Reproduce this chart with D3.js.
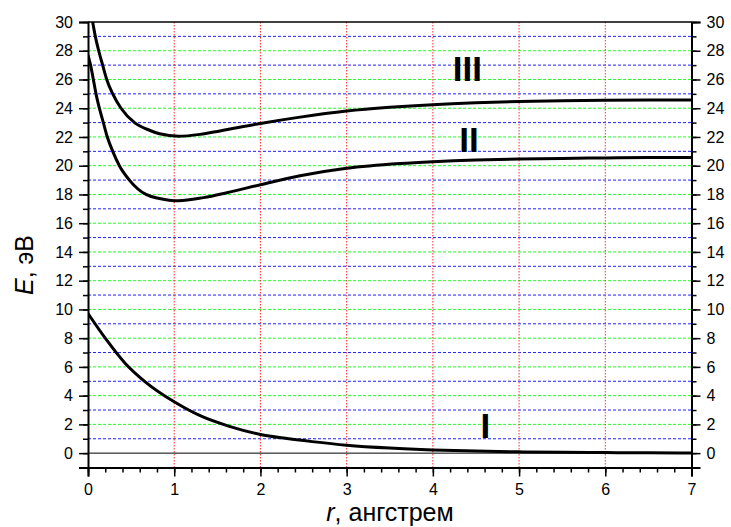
<!DOCTYPE html>
<html>
<head>
<meta charset="utf-8">
<script src="https://cdn.jsdelivr.net/npm/d3@7"></script>
<style>
html,body{margin:0;padding:0;background:#fff;}
text{font-family:"Liberation Sans",Arial,sans-serif;}
</style>
</head>
<body>
<svg id="chart" width="731" height="527"></svg>
<script>
// ---- data ----
const rI = [0, 0.2, 0.43, 0.66, 1.0, 1.32, 1.63, 2.0, 2.29, 2.6, 3, 3.5, 4, 4.5, 5, 5.5, 6, 6.5, 7];
const eI = [9.72, 8.0, 6.26, 4.98, 3.57, 2.55, 1.88, 1.3, 1.03, 0.8, 0.55, 0.35, 0.22, 0.14, 0.09, 0.06, 0.04, 0.02, 0.01];

const rII = [0, 0.03, 0.062, 0.093, 0.132, 0.178, 0.224, 0.287, 0.364, 0.48, 0.673, 0.94, 1.05, 1.34, 1.61, 2.0, 2.46, 3.0, 3.62, 4.0, 4.5, 5, 5.5, 6, 6.5, 7];
const eII = [27.7, 27, 26, 25, 24, 23, 22, 21, 20, 19, 18, 17.6, 17.56, 17.78, 18.12, 18.68, 19.3, 19.82, 20.15, 20.28, 20.4, 20.47, 20.51, 20.54, 20.57, 20.58];

const rIII = [0.054, 0.085, 0.124, 0.17, 0.217, 0.287, 0.383, 0.54, 0.72, 0.83, 1.05, 1.3, 1.53, 2.0, 2.46, 3.0, 3.5, 4.0, 4.5, 5, 5.5, 6, 6.5, 7];
const eIII = [30, 29, 28, 27, 26, 25, 24, 23, 22.45, 22.22, 22.05, 22.18, 22.42, 22.94, 23.38, 23.8, 24.06, 24.25, 24.38, 24.47, 24.52, 24.55, 24.57, 24.58];

const curveNames = ["I", "II", "III"];
const labelR = [4.61, 4.42, 4.40];
const labelE = [1.04, 20.95, 25.9];

const xTicks = [0, 1, 2, 3, 4, 5, 6, 7];
const yTicks = [0, 2, 4, 6, 8, 10, 12, 14, 16, 18, 20, 22, 24, 26, 28, 30];
const xTitle = "ангстрем";
const yTitle = "эВ";

// ---- layout ----
const svg = d3.select("#chart");
const L = 88, R = 691.5, T = 22, B = 467.5;
const x = d3.scaleLinear().domain([0, 7]).range([L, R]);
const y = d3.scaleLinear().domain([-1, 30]).range([B, T]);

// grid: horizontal (minor odd = blue, major even = green)
const minorY = d3.range(1, 30, 2);
svg.append("g").selectAll("line").data(minorY).join("line")
  .attr("x1", L).attr("x2", R).attr("y1", d => y(d)).attr("y2", d => y(d))
  .attr("stroke", "#2020ff").attr("stroke-width", 1).attr("stroke-dasharray", "3,2");
svg.append("g").selectAll("line").data(yTicks.filter(d => d > 0 && d < 30)).join("line")
  .attr("x1", L).attr("x2", R).attr("y1", d => y(d)).attr("y2", d => y(d))
  .attr("stroke", "#20ff20").attr("stroke-width", 1).attr("stroke-dasharray", "3,2");
// vertical red dotted
svg.append("g").selectAll("line").data(xTicks.filter(d => d > 0 && d < 7)).join("line")
  .attr("x1", d => x(d)).attr("x2", d => x(d)).attr("y1", T).attr("y2", B)
  .attr("stroke", "#ff3030").attr("stroke-width", 1).attr("stroke-dasharray", "1.5,1.5");

// zero line
svg.append("line").attr("x1", L).attr("x2", R).attr("y1", y(0)).attr("y2", y(0))
  .attr("stroke", "#000").attr("stroke-width", 1);

// curves
svg.append("defs").append("clipPath").attr("id", "clip")
  .append("rect").attr("x", L).attr("y", T).attr("width", R - L).attr("height", B - T);
const line = d3.line().x(d => x(d[0])).y(d => y(d[1])).curve(d3.curveMonotoneX);
const series = [d3.zip(rI, eI), d3.zip(rII, eII), d3.zip(rIII, eIII)];
svg.append("g").attr("clip-path", "url(#clip)").selectAll("path").data(series).join("path")
  .attr("d", line).attr("fill", "none").attr("stroke", "#000").attr("stroke-width", 3)
  .attr("stroke-linejoin", "round");

// axes
const minorX = d3.range(0, 7.001, 0.2).map(v => +v.toFixed(1));
const gB = svg.append("g").attr("transform", `translate(0,${B})`);
gB.call(d3.axisBottom(x).tickValues(minorX).tickSize(5).tickFormat(""));
gB.call(g => g.select(".domain").remove());
const gB2 = svg.append("g").attr("transform", `translate(0,${B})`);
gB2.call(d3.axisBottom(x).tickValues(xTicks).tickSize(9).tickPadding(7).tickFormat(d3.format("d")));
const gL = svg.append("g").attr("transform", `translate(${L},0)`);
gL.call(d3.axisLeft(y).tickValues(d3.range(-1, 31, 1)).tickSize(5).tickFormat(""));
gL.call(g => g.select(".domain").remove());
const gL2 = svg.append("g").attr("transform", `translate(${L},0)`);
gL2.call(d3.axisLeft(y).tickValues(yTicks).tickSize(9).tickPadding(6).tickFormat(d3.format("d")));
const gR = svg.append("g").attr("transform", `translate(${R},0)`);
gR.call(d3.axisRight(y).tickValues(d3.range(-1, 31, 1)).tickSize(5).tickFormat(""));
gR.call(g => g.select(".domain").remove());
const gR2 = svg.append("g").attr("transform", `translate(${R},0)`);
gR2.call(d3.axisRight(y).tickValues(yTicks).tickSize(9).tickPadding(6).tickFormat(d3.format("d")));

svg.selectAll(".tick line").attr("stroke", "#000").attr("stroke-width", 1.5);
svg.selectAll(".domain").attr("stroke", "#000").attr("stroke-width", 2);
svg.selectAll(".tick text").attr("font-size", 16).attr("fill", "#000")
  .attr("font-family", "Liberation Sans, Arial, sans-serif");

// frame top
svg.append("line").attr("x1", L).attr("x2", R).attr("y1", T).attr("y2", T)
  .attr("stroke", "#000").attr("stroke-width", 1.5);

// curve labels
svg.append("g").selectAll("text").data(curveNames).join("text")
  .attr("x", (d, i) => x(labelR[i])).attr("y", (d, i) => y(labelE[i]))
  .attr("text-anchor", "middle").attr("font-size", 35).attr("font-weight", "bold")
  .text(d => d);

// axis titles
const xt = svg.append("text").attr("x", 390).attr("y", 521)
  .attr("text-anchor", "middle").attr("font-size", 25);
xt.append("tspan").attr("font-style", "italic").text("r");
xt.append("tspan").text(", " + xTitle);

const yt = svg.append("text").attr("transform", "translate(33,265) rotate(-90)")
  .attr("text-anchor", "middle").attr("font-size", 25);
yt.append("tspan").attr("font-style", "italic").text("E");
yt.append("tspan").text(", " + yTitle);
</script>
</body>
</html>
